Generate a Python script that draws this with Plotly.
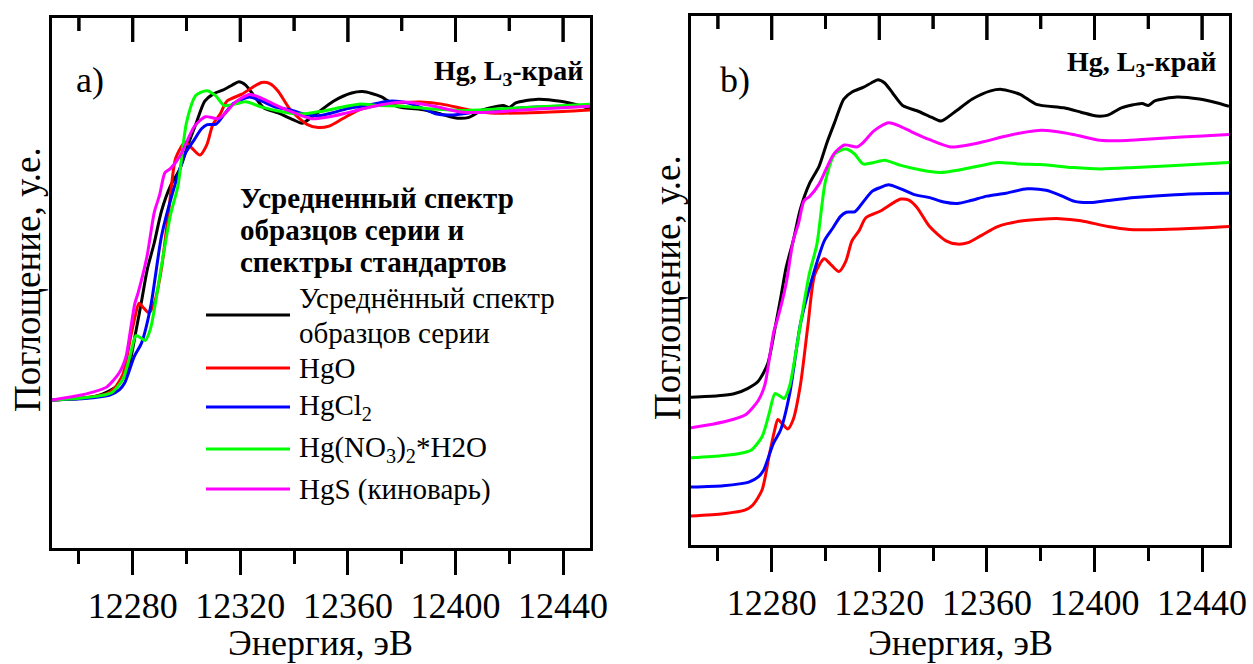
import plotly.graph_objects as go

W, H = 1253, 664
FONT = "Liberation Serif"

# ---------------- data (energy, eV ; normalized absorption) ----------------
names = ["Усреднённый спектр<br>образцов серии", "HgO", "HgCl<sub>2</sub>",
         "Hg(NO<sub>3</sub>)<sub>2</sub>*H2O", "HgS (киноварь)"]
colors = ["#000000", "#ff0000", "#0000ff", "#00ff00", "#ff00ff"]

avg_E = [12250, 12260, 12266, 12271, 12275, 12278.5, 12281.3, 12283.4, 12285.4, 12288, 12290.7,
         12294, 12297.6, 12300.5, 12303.6, 12306.8, 12310, 12314, 12317, 12319.5, 12322, 12325,
         12328.8, 12334, 12339.6, 12343, 12347.8, 12354.6, 12361.4, 12365.5, 12372.3, 12378.4,
         12388.6, 12395, 12400.8, 12405, 12410, 12417.7, 12420, 12422.4, 12430.7, 12439, 12445, 12450]
avg_mu = [0, 0.005, 0.012, 0.03, 0.055, 0.115, 0.24, 0.343, 0.445, 0.536, 0.645,
          0.73, 0.79, 0.87, 0.945, 1.02, 1.045, 1.06, 1.075, 1.086, 1.075, 1.04,
          0.997, 0.98, 0.957, 0.945, 0.974, 1.02, 1.048, 1.053, 1.036, 1.002,
          0.99, 0.975, 0.962, 0.965, 0.99, 1.005, 0.998, 1.014, 1.027, 1.02, 1.008, 0.995]

hgo_E = [12250, 12262, 12270, 12273, 12276.4, 12279.2, 12281, 12282.3, 12284, 12286, 12288,
         12290.7, 12293.5, 12296, 12299.5, 12302, 12305, 12307.5, 12309.8, 12312.5, 12315,
         12320.6, 12325, 12328, 12331, 12334, 12338.7, 12345, 12349, 12353, 12358, 12364,
         12372, 12380, 12387, 12395, 12405, 12413, 12425, 12440, 12450]
hgo_mu = [0, 0.008, 0.02, 0.038, 0.089, 0.214, 0.29, 0.33, 0.315, 0.298, 0.33,
          0.45, 0.655, 0.826, 0.88, 0.86, 0.836, 0.87, 0.94, 0.976, 1.02,
          1.044, 1.07, 1.084, 1.08, 1.055, 0.99, 0.94, 0.93, 0.935, 0.96, 0.99,
          1.008, 1.015, 1.017, 1.01, 0.99, 0.98, 0.98, 0.985, 0.99]

hgcl2_E = [12250, 12262, 12268, 12271.7, 12275, 12277, 12280.6, 12283.3, 12286.7, 12290.7,
           12294.8, 12299.6, 12302.8, 12305.5, 12307.7, 12311, 12314, 12317.4, 12320.5, 12323.4,
           12328, 12333, 12338.7, 12344, 12349, 12354, 12360, 12367, 12375, 12382, 12388,
           12392.6, 12398.6, 12405, 12415, 12430, 12443, 12450]
hgcl2_mu = [0, 0.005, 0.011, 0.018, 0.035, 0.058, 0.149, 0.195, 0.32, 0.559,
            0.706, 0.843, 0.887, 0.925, 0.94, 0.942, 0.975, 1.012, 1.025, 1.034,
            1.02, 1.0, 0.99, 0.975, 0.97, 0.98, 0.995, 1.005, 1.02, 1.015, 0.995,
            0.977, 0.973, 0.98, 0.99, 1.0, 1.004, 1.005]

hgno3_E = [12250, 12262, 12268, 12272.3, 12276.4, 12279, 12281.2, 12283, 12284.6, 12286.6,
           12290.7, 12294, 12296.8, 12300, 12303.5, 12307.5, 12310.7, 12314, 12318, 12322,
           12328, 12335, 12342.4, 12350, 12358, 12364, 12372, 12380, 12392, 12402, 12415,
           12430, 12450]
hgno3_mu = [0, 0.008, 0.015, 0.026, 0.072, 0.15, 0.22, 0.212, 0.203, 0.243,
            0.458, 0.63, 0.73, 0.947, 1.04, 1.056, 1.04, 1.005, 1.01, 1.018,
            1.0, 0.985, 0.976, 0.985, 1.0, 1.01, 1.005, 1.003, 0.993, 0.988, 0.993,
            1.0, 1.01]

hgs_E = [12250, 12258, 12265.5, 12270.4, 12275, 12277.5, 12279.2, 12280.8, 12282, 12285.3,
         12288, 12290, 12292, 12294, 12297.6, 12300.5, 12303, 12307, 12311.7, 12314, 12318,
         12323.4, 12328, 12332, 12338.7, 12346.5, 12352, 12358.7, 12366, 12372, 12380.4,
         12392, 12402, 12412, 12425, 12440, 12450]
hgs_mu = [0, 0.012, 0.028, 0.045, 0.093, 0.148, 0.241, 0.33, 0.366, 0.49,
          0.64, 0.7, 0.776, 0.79, 0.833, 0.89, 0.935, 0.967, 0.96, 0.975, 1.015,
          1.043, 1.03, 1.012, 0.985, 0.96, 0.965, 0.978, 0.995, 1.007, 1.017,
          1.003, 0.983, 0.982, 0.99, 0.998, 1.003]

# vertical shifts of the stacked spectra in panel b
offsets_b = [0.0, -0.406, -0.307, -0.207, -0.104]

x_range = [12250, 12450]
y_range = [-0.505, 1.304]
x_ticks = [12280, 12320, 12360, 12400, 12440]
x_minor_ticks = [12260, 12300, 12340, 12380, 12420]

series_E = [avg_E, hgo_E, hgcl2_E, hgno3_E, hgs_E]
series_mu = [avg_mu, hgo_mu, hgcl2_mu, hgno3_mu, hgs_mu]


def px(x):
    return x / W


def py(y):
    return 1 - y / H


# panel frames in pixels (left, right, top, bottom)
frame_a = (52, 590, 18, 548)
frame_b = (691, 1229, 16, 545)
MAJOR_LEN, MINOR_LEN = 24, 13

# ---------------- figure ----------------
fig = go.Figure()
for E, mu, c, n in zip(series_E, series_mu, colors, names):
    fig.add_trace(go.Scatter(x=E, y=mu, mode="lines", name=n, showlegend=False,
                             line=dict(color=c, width=3, shape="spline", smoothing=0.7),
                             xaxis="x", yaxis="y"))
for E, mu, c, n, off in zip(series_E, series_mu, colors, names, offsets_b):
    fig.add_trace(go.Scatter(x=E, y=[v + off for v in mu], mode="lines", name=n, showlegend=False,
                             line=dict(color=c, width=3, shape="spline", smoothing=0.7),
                             xaxis="x2", yaxis="y2"))

# inward tick marks hanging from the top frame, drawn on the energy scale
for (l, r, t, b), xa, ya in ((frame_a, "x", "y"), (frame_b, "x2", "y2")):
    per_px = (y_range[1] - y_range[0]) / (b - t)
    tx, ty = [], []
    for vals, ln in ((x_ticks, MAJOR_LEN), (x_minor_ticks, MINOR_LEN)):
        for v in vals:
            tx += [v, v, None]
            ty += [y_range[1], y_range[1] - ln * per_px, None]
    fig.add_trace(go.Scatter(x=tx, y=ty, mode="lines", line=dict(color="black", width=3),
                             showlegend=False, hoverinfo="skip", connectgaps=False,
                             xaxis=xa, yaxis=ya))

tickfont = dict(family=FONT, size=36, color="black")
base_x = dict(range=x_range, tickmode="array", tickvals=x_ticks, tickformat="d",
              ticks="outside", ticklen=MAJOR_LEN, automargin=False,
              tickwidth=3, tickcolor="black", showline=True, linewidth=3, linecolor="black",
              mirror=True, showgrid=False, zeroline=False, tickfont=tickfont,
              minor=dict(ticks="outside", tickvals=x_minor_ticks, ticklen=MINOR_LEN, tickwidth=3,
                         tickcolor="black", showgrid=False))
base_y = dict(range=y_range, showline=True, linewidth=3, linecolor="black", mirror=True,
              ticks="", showticklabels=False, showgrid=False, zeroline=False, automargin=False)

fig.update_layout(
    width=W, height=H, margin=dict(l=0, r=0, t=0, b=0, autoexpand=False), autosize=False,
    paper_bgcolor="white", plot_bgcolor="white", showlegend=False,
    font=dict(family=FONT, color="black"),
    xaxis=dict(base_x, domain=[px(frame_a[0]), px(frame_a[1])], anchor="y"),
    yaxis=dict(base_y, domain=[py(frame_a[3]), py(frame_a[2])], anchor="x"),
    xaxis2=dict(base_x, domain=[px(frame_b[0]), px(frame_b[1])], anchor="y2"),
    yaxis2=dict(base_y, domain=[py(frame_b[3]), py(frame_b[2])], anchor="x2"),
)

shapes = []
# same inward top ticks as layout lines (x on the energy scale, y in page units)
for frame, xr in ((frame_a, "x"), (frame_b, "x2")):
    top = frame[2]
    for vals, ln in ((x_ticks, MAJOR_LEN), (x_minor_ticks, MINOR_LEN)):
        for t in vals:
            shapes.append(dict(type="line", xref=xr, yref="paper", x0=t, x1=t,
                               y0=py(top), y1=py(top + ln),
                               line=dict(color="black", width=3), layer="above"))

ann = []
# axis titles
for cx in (320, 960):
    ann.append(dict(text="Энергия, эВ", x=px(cx), y=py(643), xref="paper", yref="paper",
                    showarrow=False, font=dict(size=36), xanchor="center", yanchor="middle"))
ann.append(dict(text="Поглощение, у.е.", x=px(27), y=py(280), xref="paper", yref="paper",
                showarrow=False, font=dict(size=37), textangle=-90, xanchor="center",
                yanchor="middle"))
ann.append(dict(text="Поглощение, у.е.", x=px(667), y=py(287), xref="paper", yref="paper",
                showarrow=False, font=dict(size=37), textangle=-90, xanchor="center",
                yanchor="middle"))
# panel labels
ann.append(dict(text="a)", x=px(74), y=py(80), xref="paper", yref="paper", showarrow=False,
                font=dict(size=36), xanchor="left", yanchor="middle"))
ann.append(dict(text="b)", x=px(718), y=py(80), xref="paper", yref="paper", showarrow=False,
                font=dict(size=36), xanchor="left", yanchor="middle"))
ann.append(dict(text="<b>Hg, L<sub>3</sub>-край</b>", x=px(585), y=py(72), xref="paper",
                yref="paper", showarrow=False, font=dict(size=28), xanchor="right",
                yanchor="middle"))
ann.append(dict(text="<b>Hg, L<sub>3</sub>-край</b>", x=px(1218), y=py(64), xref="paper",
                yref="paper", showarrow=False, font=dict(size=28), xanchor="right",
                yanchor="middle"))
# legend (panel a): bold heading, line by line
legend_title = ["Усредненный спектр", "образцов серии и", "спектры стандартов"]
for line, yy in zip(legend_title, (198, 230, 262)):
    ann.append(dict(text="<b>" + line + "</b>", x=px(238), y=py(yy), xref="paper",
                    yref="paper", showarrow=False, font=dict(size=29), xanchor="left",
                    yanchor="middle"))
leg_y = [315, 368, 407, 449, 489]
for n, c, yy in zip(names, colors, leg_y):
    shapes.append(dict(type="line", xref="paper", yref="paper", x0=px(206), x1=px(290),
                       y0=py(yy), y1=py(yy), line=dict(color=c, width=3)))
    parts = n.split("<br>")
    if len(parts) == 1:
        ann.append(dict(text=n, x=px(297), y=py(yy), xref="paper", yref="paper",
                        showarrow=False, font=dict(size=29), xanchor="left", yanchor="middle"))
    else:
        for k, part in enumerate(parts):
            ann.append(dict(text=part, x=px(297), y=py(yy - 17 + 35 * k), xref="paper",
                            yref="paper", showarrow=False, font=dict(size=29),
                            xanchor="left", yanchor="middle"))

fig.update_layout(annotations=ann, shapes=shapes)
fig.write_html("out.html")
